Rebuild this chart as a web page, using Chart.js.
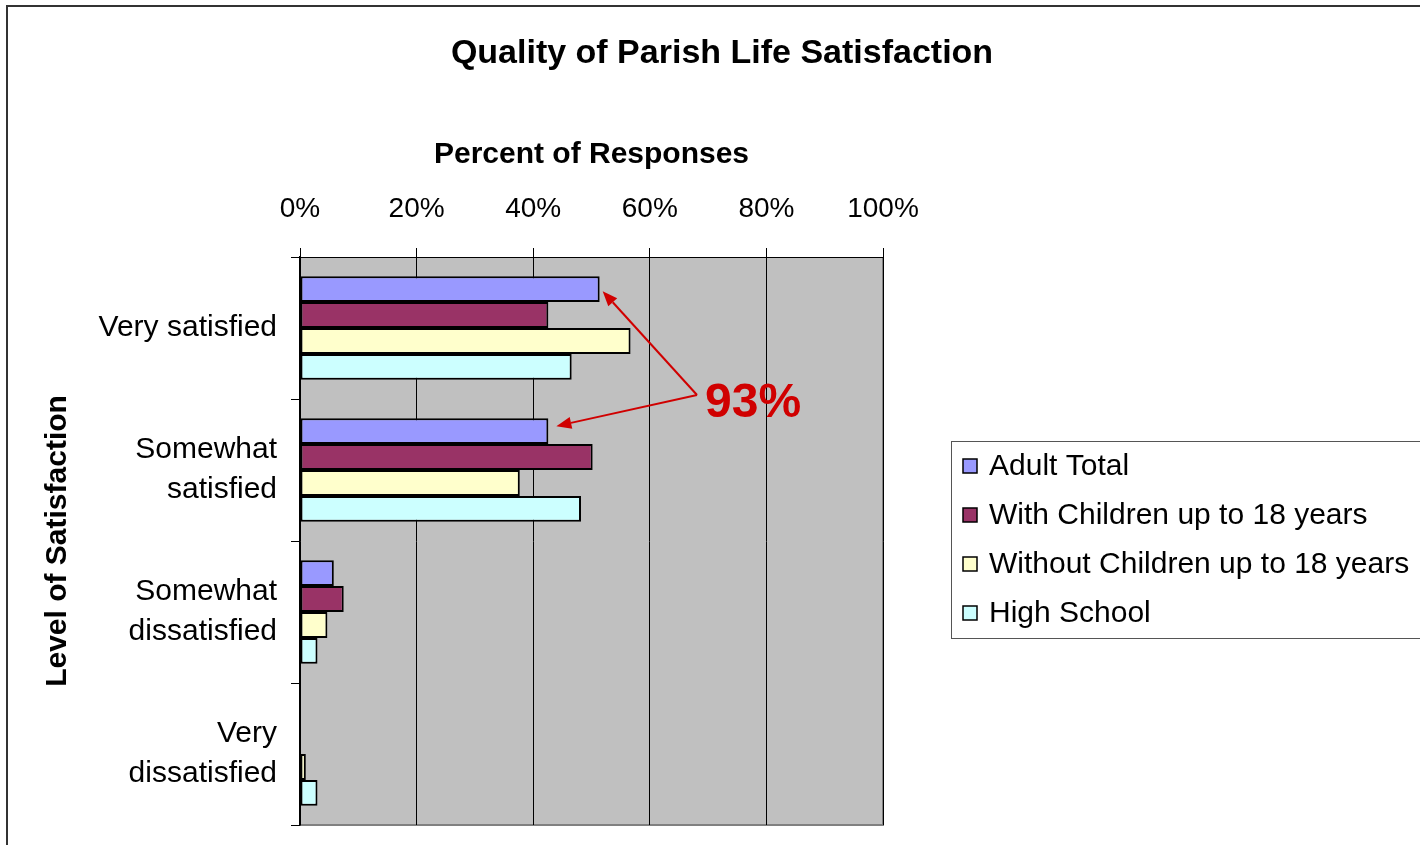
<!DOCTYPE html>
<html>
<head>
<meta charset="utf-8">
<script src="https://cdn.jsdelivr.net/npm/chart.js@4/dist/chart.umd.min.js"></script>
<style>
html,body{margin:0;padding:0;background:#fff;}
#wrap{position:relative;width:1420px;height:845px;}
</style>
</head>
<body>
<div id="wrap"><canvas id="c" width="1420" height="845"></canvas></div>
<script>
// ---- data ----
const categories = [
  'Very satisfied',
  ['Somewhat', 'satisfied'],
  ['Somewhat', 'dissatisfied'],
  ['Very', 'dissatisfied']
];
const seriesNames = ['Adult Total', 'With Children up to 18 years', 'Without Children up to 18 years', 'High School'];
const adultTotal      = [51.4, 42.6, 5.8, 0];
const withChildren    = [42.6, 50.2, 7.5, 0];
const withoutChildren = [56.7, 37.7, 4.7, 1.0];
const highSchool      = [46.6, 48.2, 3.0, 3.0];
const xTickLabels = ['0%', '20%', '40%', '60%', '80%', '100%'];
const chartTitle = 'Quality of Parish Life Satisfaction';
const xAxisTitle = 'Percent of Responses';
const yAxisTitle = 'Level of Satisfaction';
const annotationText = '93%';

const colors = ['#9999FF', '#993366', '#FFFFCC', '#CCFFFF'];
const seriesValues = [adultTotal, withChildren, withoutChildren, highSchool];

Chart.defaults.font.family = "'Liberation Sans', Arial, sans-serif";
Chart.defaults.color = '#000';

const bgPlugin = {
  id: 'bg',
  beforeDraw(chart) {
    const ctx = chart.ctx, a = chart.chartArea;
    ctx.save();
    ctx.fillStyle = '#fff';
    ctx.fillRect(0, 0, chart.width, chart.height);
    ctx.strokeStyle = '#333';
    ctx.lineWidth = 2;
    ctx.strokeRect(7, 6, chart.width + 10, chart.height + 10);
    ctx.fillStyle = '#C0C0C0';
    ctx.fillRect(a.left, a.top, a.right - a.left, a.bottom - a.top);
    ctx.strokeStyle = '#808080';
    ctx.lineWidth = 2;
    ctx.beginPath();
    ctx.moveTo(a.left, a.bottom);
    ctx.lineTo(a.right, a.bottom);
    ctx.lineTo(a.right, a.top);
    ctx.stroke();
    ctx.restore();
  }
};

function arrow(ctx, x1, y1, x2, y2) {
  const ang = Math.atan2(y2 - y1, x2 - x1);
  const len = 15, w = 6;
  const bx = x2 - len * Math.cos(ang), by = y2 - len * Math.sin(ang);
  ctx.beginPath();
  ctx.moveTo(x1, y1);
  ctx.lineTo(bx, by);
  ctx.stroke();
  ctx.beginPath();
  ctx.moveTo(x2, y2);
  ctx.lineTo(bx + w * Math.sin(ang), by - w * Math.cos(ang));
  ctx.lineTo(bx - w * Math.sin(ang), by + w * Math.cos(ang));
  ctx.closePath();
  ctx.fill();
}

const annoPlugin = {
  id: 'anno',
  afterDatasetsDraw(chart) {
    const ctx = chart.ctx;
    const xs = chart.scales.x, ys = chart.scales.y;
    const meta = chart.getDatasetMeta(0);
    const b0 = meta.data[0], b1 = meta.data[1];
    const sx = xs.getPixelForValue(68.1), sy = ys.getPixelForValue(0.5) - 4;
    ctx.save();
    ctx.strokeStyle = '#D00000';
    ctx.fillStyle = '#D00000';
    ctx.lineWidth = 2;
    arrow(ctx, sx, sy, b0.x + 3, b0.y + 2);
    arrow(ctx, sx, sy, b1.x + 8, b1.y - 5);
    ctx.font = "bold 48px 'Liberation Sans', Arial, sans-serif";
    ctx.textAlign = 'left';
    ctx.textBaseline = 'middle';
    ctx.fillText(annotationText, sx + 8, sy + 9);
    ctx.restore();
  }
};

const legendPlugin = {
  id: 'customLegend',
  afterDraw(chart) {
    const ctx = chart.ctx;
    ctx.save();
    ctx.strokeStyle = '#555';
    ctx.lineWidth = 1;
    ctx.strokeRect(951.5, 441.5, 520, 197);
    ctx.font = "30px 'Liberation Sans', Arial, sans-serif";
    ctx.textBaseline = 'middle';
    ctx.textAlign = 'left';
    chart.data.datasets.forEach((ds, i) => {
      const y = 466 + i * 49;
      ctx.fillStyle = ds.backgroundColor;
      ctx.fillRect(963, y - 7, 14, 14);
      ctx.strokeStyle = '#000';
      ctx.lineWidth = 1.5;
      ctx.strokeRect(963, y - 7, 14, 14);
      ctx.fillStyle = '#000';
      ctx.fillText(ds.label, 989, y + 1);
    });
    ctx.restore();
  }
};

new Chart(document.getElementById('c'), {
  type: 'bar',
  data: {
    labels: categories,
    datasets: seriesNames.map((name, i) => ({
      label: name,
      data: seriesValues[i],
      backgroundColor: colors[i],
      borderColor: '#000',
      borderWidth: 2,
      borderSkipped: false,
      barPercentage: 1,
      categoryPercentage: 0.73
    }))
  },
  options: {
    indexAxis: 'y',
    responsive: false,
    animation: false,
    layout: { padding: { left: 24, top: 0, right: 0, bottom: 20 } },
    plugins: {
      legend: { display: false },
      tooltip: { enabled: false },
      title: {
        display: true,
        text: chartTitle,
        color: '#000',
        font: { size: 34, weight: 'bold' },
        padding: { top: 33, bottom: 10 }
      }
    },
    scales: {
      x: {
        position: 'top',
        min: 0, max: 100,
        ticks: {
          stepSize: 20,
          color: '#000',
          font: { size: 28 },
          padding: 22,
          callback: (v, i) => xTickLabels[i]
        },
        grid: { color: '#000', lineWidth: 1, tickLength: 9, drawOnChartArea: true },
        border: { color: '#000', width: 1 },
        title: {
          display: true, text: xAxisTitle, color: '#000',
          font: { size: 30, weight: 'bold' }, padding: { top: 53, bottom: 0 }
        },
        afterFit: s => { s.height = 257 - 83.8; s.paddingLeft = 0; s.paddingRight = 0; }
      },
      y: {
        position: 'left',
        ticks: {
          color: '#000',
          font: { size: 30, lineHeight: 1.33 },
          padding: 14,
          crossAlign: 'near'
        },
        grid: { color: '#000', drawOnChartArea: false, tickLength: 9, offset: true },
        border: { color: '#000', width: 1.5 },
        title: {
          display: true, text: yAxisTitle, color: '#000',
          font: { size: 30, weight: 'bold' }, padding: { top: 16, bottom: 0 }
        },
        afterFit: s => { s.width = 276; s.paddingTop = 0; s.paddingBottom = 0; }
      },
      y2: {
        type: 'linear',
        position: 'right',
        display: true,
        ticks: { display: false },
        grid: { display: false },
        border: { display: false },
        afterFit: s => { s.width = 537; s.paddingTop = 0; s.paddingBottom = 0; }
      }
    }
  },
  plugins: [bgPlugin, annoPlugin, legendPlugin]
});
</script>
</body>
</html>
